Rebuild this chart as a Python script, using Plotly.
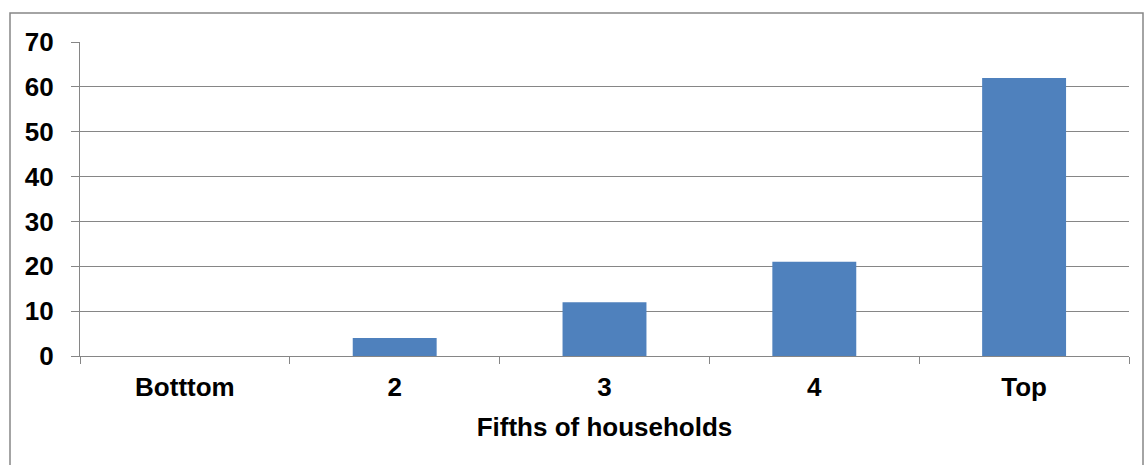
import plotly.graph_objects as go

categories = ["Botttom", "2", "3", "4", "Top"]
values = [0, 4, 12, 21, 62]
y_ticks = [0, 10, 20, 30, 40, 50, 60, 70]

font_family = "Liberation Sans, Arial, sans-serif"

fig = go.Figure(go.Bar(x=categories, y=values, marker=dict(color="#4F81BD", line=dict(width=0))))

L, R, T, B = 80, 15, 42, 109
W, H = 1144, 465
pw = W - L - R
ph = H - T - B

def px_x(x):
    return (x - L) / pw

def px_y(y):
    return (H - B - y) / ph

fig.update_layout(
    width=W, height=H,
    margin=dict(l=L, r=R, t=T, b=B),
    plot_bgcolor="white", paper_bgcolor="white",
    bargap=0.6,
    showlegend=False,
    font=dict(family=font_family, color="black", size=26),
    xaxis=dict(
        showgrid=False, showline=True, linecolor="#868686", linewidth=1.2,
        ticks="outside", ticklen=7, tickcolor="#868686", tickson="boundaries",
        tickfont=dict(size=26, family=font_family, weight="bold"),
        ticklabelstandoff=8,
        title=dict(text="<b>Fifths of households</b>", font=dict(size=26), standoff=16),
    ),
    yaxis=dict(
        range=[0, 70], tickvals=y_ticks, showgrid=True, gridcolor="#868686", gridwidth=1.2,
        showline=True, linecolor="#868686", linewidth=1.2,
        ticks="outside", ticklen=8, tickcolor="#868686",
        tickfont=dict(size=26, family=font_family, weight="bold"),
        ticklabelstandoff=12,
        zeroline=False,
    ),
    shapes=[
        dict(type="rect", xref="paper", yref="paper",
             x0=px_x(10), x1=px_x(1143), y0=px_y(475), y1=px_y(13),
             line=dict(color="#868686", width=1.5), fillcolor="rgba(0,0,0,0)", layer="below"),
    ],
)

fig.write_html("out.html")
